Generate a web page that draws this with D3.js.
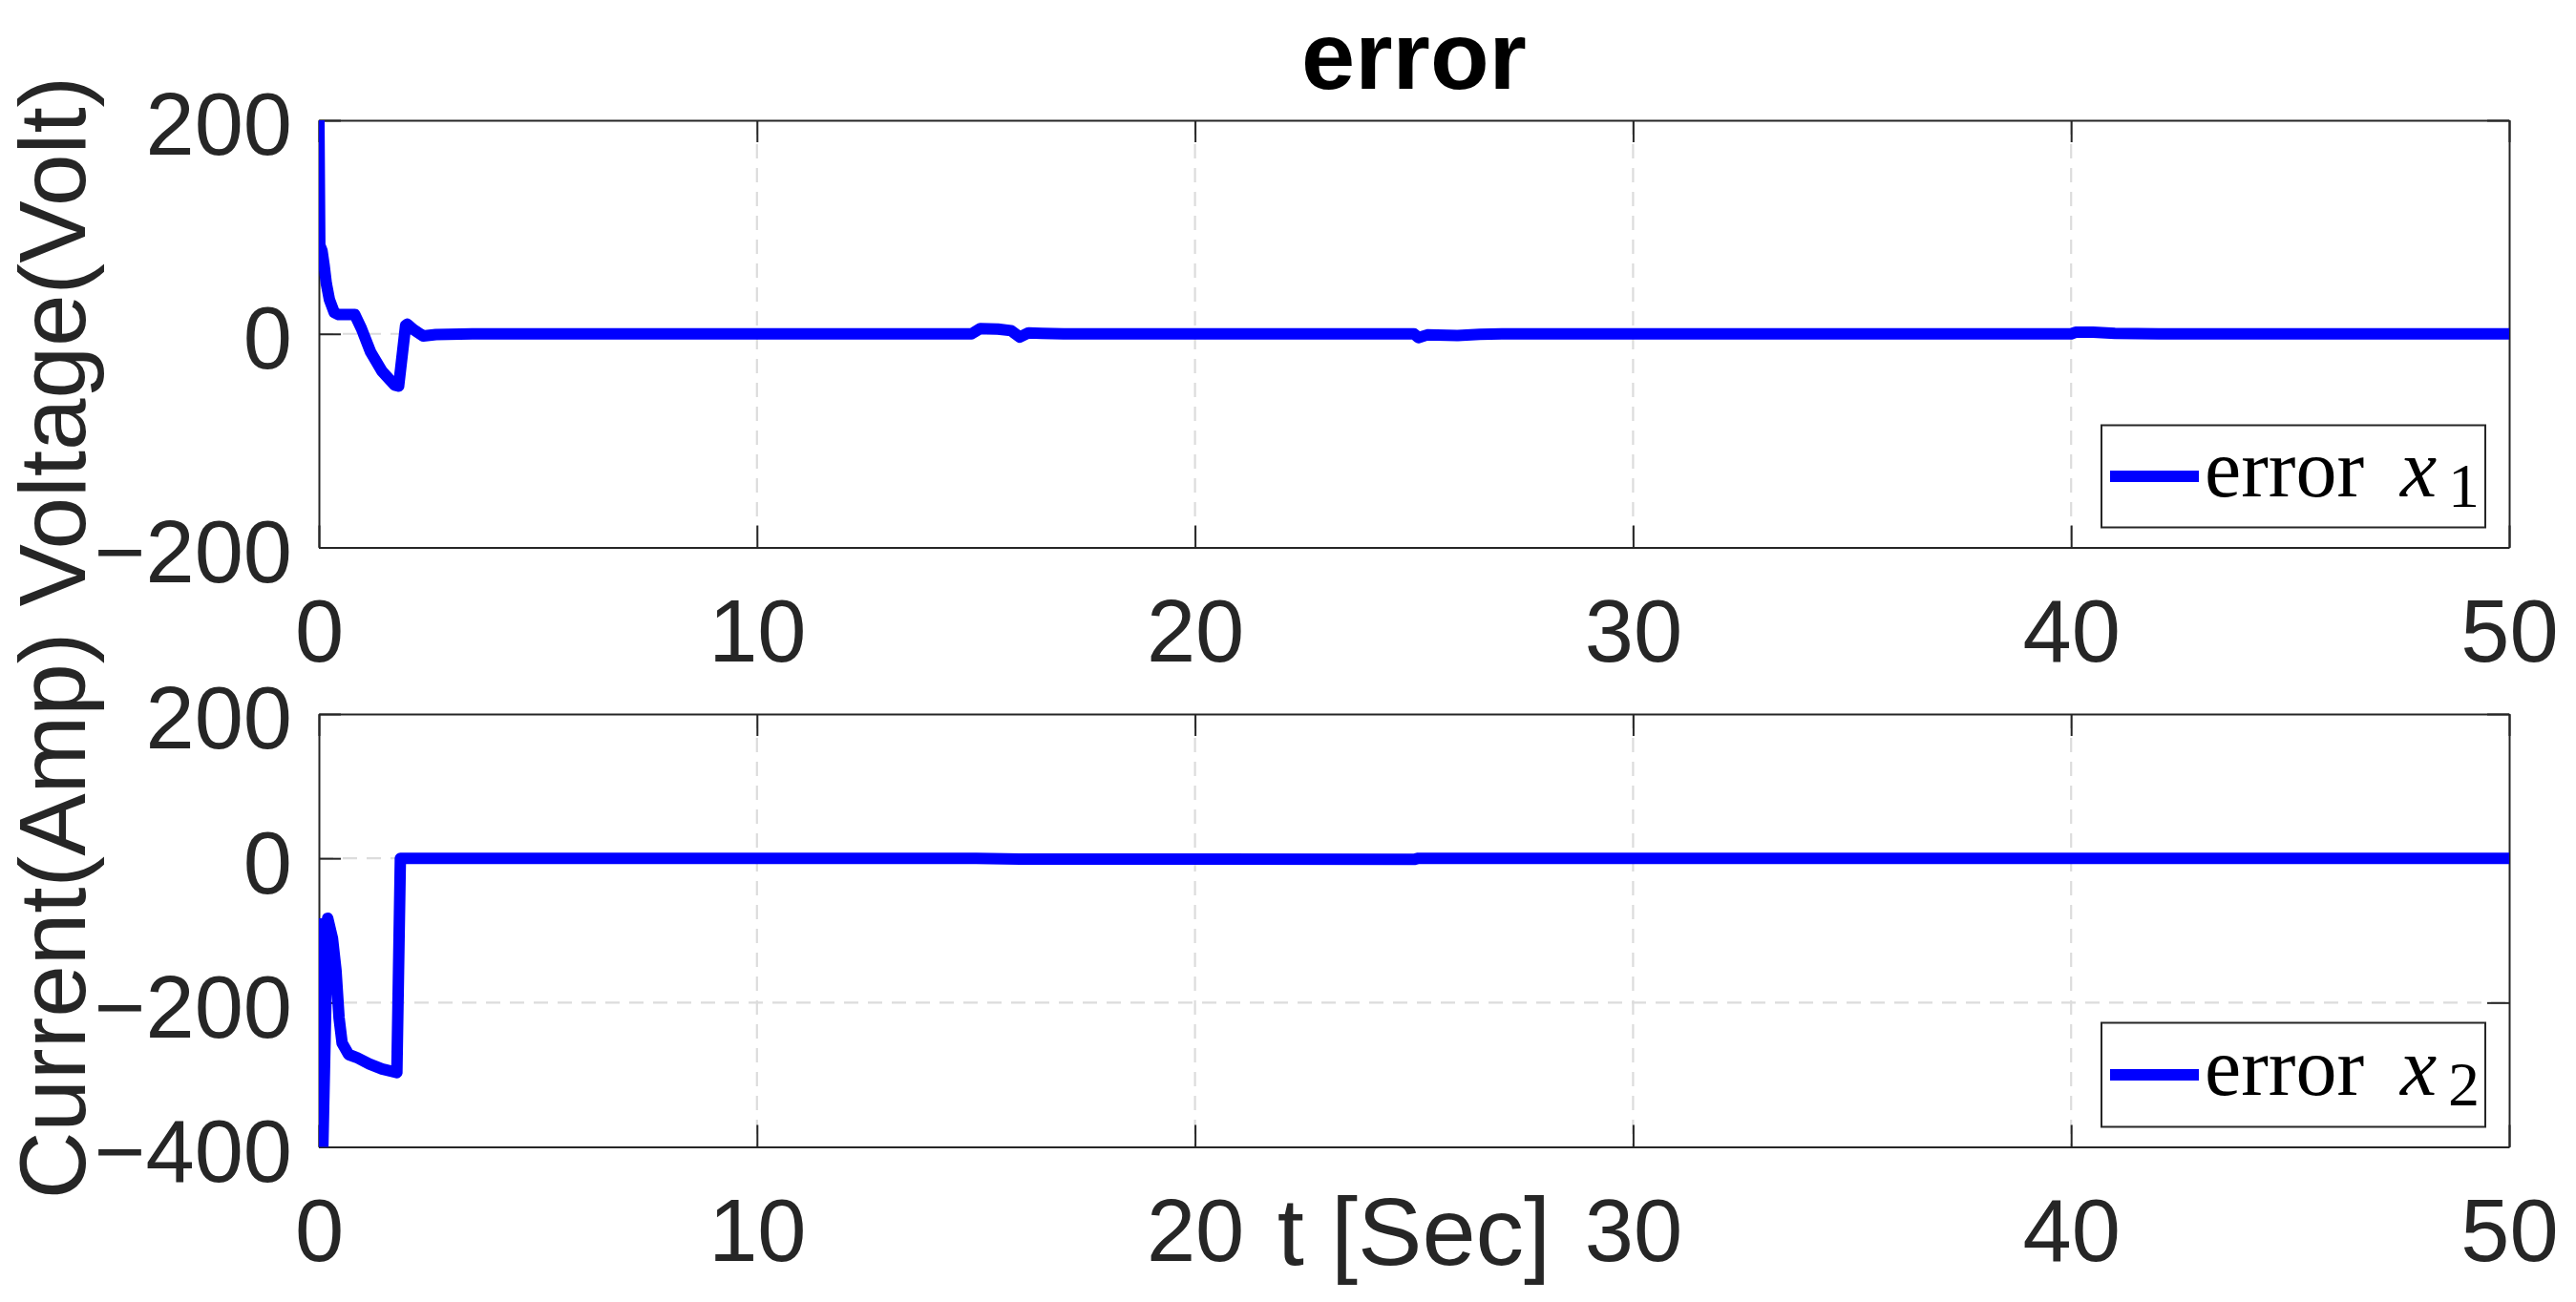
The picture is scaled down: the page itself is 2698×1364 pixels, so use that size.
<!DOCTYPE html>
<html><head><meta charset="utf-8">
<script src="https://cdn.jsdelivr.net/npm/d3@7"></script>
<style>body{margin:0;background:#fff}svg{display:block}</style>
</head><body>
<script>
// ---------- data ----------
const timeX1 = [0, 0.02, 0.07, 0.12, 0.17, 0.24, 0.35, 0.45, 0.82, 0.97, 1.18, 1.44, 1.73, 1.82, 1.98, 2.02, 2.16, 2.38, 2.67, 3.5, 14.9, 15.1, 15.5, 15.8, 16.0, 16.2, 16.5, 17, 25.0, 25.1, 25.3, 26, 26.5, 27, 40.0, 40.1, 40.5, 41, 42, 50];
const errorX1 = [200, 83, 78, 64, 47, 32, 20, 18, 18, 5, -17, -35, -48, -49, 8, 9, 4, -2, -0.6, 0, 0, 5, 4.5, 3, -3, 1, 0.5, 0, 0, -3.5, -1, -1.5, -0.5, 0, 0, 1.5, 1.5, 0.5, 0, 0];
const timeX2 = [0, 0.09, 0.2, 0.31, 0.39, 0.46, 0.53, 0.68, 0.86, 1.15, 1.44, 1.78, 1.86, 5, 15, 16, 25, 25.1, 50];
const errorX2 = [-83, -400, -83, -111, -155, -221, -256, -272, -276, -285, -292, -297, 0, 0, 0, -1, -1.5, 0, 0];
const xTicks = [0, 10, 20, 30, 40, 50];
const yTicksTop = [-200, 0, 200];
const yTicksBottom = [-400, -200, 0, 200];
const titleText = "error";
const xLabelText = "t [Sec]";
const yLabelText = "Current(Amp) Voltage(Volt)";
const legendNames = ["error", "error"];
const legendSubs = ["1", "2"];

// ---------- layout ----------
const W = 2698, H = 1364;
const L = 334, R = 2628;
const axisColor = "#262626";
const gridColor = "#dcdcdc";
const lineColor = "#0000ff";
const sans = "'Liberation Sans', Arial, Helvetica, sans-serif";
const serif = "'Liberation Serif', 'Times New Roman', serif";

const svg = d3.select("body").append("svg").attr("width", W).attr("height", H);
const x = d3.scaleLinear().domain([0, 50]).range([L, R]);

const panels = [
  {top: 126, bottom: 573.5, domain: [-200, 200], ticks: yTicksTop, t: timeX1, v: errorX1},
  {top: 748, bottom: 1201.5, domain: [-400, 200], ticks: yTicksBottom, t: timeX2, v: errorX2}
];

panels.forEach((p, pi) => {
  const y = d3.scaleLinear().domain(p.domain).range([p.bottom, p.top]);
  const g = svg.append("g");
  const clipId = "clip" + pi;
  svg.append("clipPath").attr("id", clipId).append("rect")
    .attr("x", L).attr("y", p.top).attr("width", R - L).attr("height", p.bottom - p.top);

  // grid
  const grid = g.append("g").attr("stroke", gridColor).attr("stroke-width", 2.2)
    .attr("stroke-dasharray", "15,10");
  grid.selectAll("line.gx").data(xTicks.filter(d => d > 0 && d < 50)).join("line")
    .attr("x1", d => x(d)).attr("x2", d => x(d)).attr("y1", p.top).attr("y2", p.bottom);
  grid.selectAll("line.gy").data(p.ticks.filter(d => d > p.domain[0] && d < p.domain[1])).join("line")
    .attr("y1", d => y(d)).attr("y2", d => y(d)).attr("x1", L).attr("x2", R);

  // axes
  const ax = g.append("g").attr("transform", `translate(0,${p.bottom})`)
    .call(d3.axisBottom(x).tickValues(xTicks).tickSizeInner(-23).tickSizeOuter(0).tickPadding(54).tickFormat(d3.format("d")));
  const axT = g.append("g").attr("transform", `translate(0,${p.top})`)
    .call(d3.axisTop(x).tickValues(xTicks).tickSizeInner(-23).tickSizeOuter(0).tickFormat(""));
  const ay = g.append("g").attr("transform", `translate(${L},0)`)
    .call(d3.axisLeft(y).tickValues(p.ticks).tickSizeInner(-23).tickSizeOuter(0).tickPadding(28));
  const ayR = g.append("g").attr("transform", `translate(${R},0)`)
    .call(d3.axisRight(y).tickValues(p.ticks).tickSizeInner(-23).tickSizeOuter(0).tickFormat(""));
  [ax, axT, ay, ayR].forEach(a => {
    a.select(".domain").attr("stroke", axisColor).attr("stroke-width", 2);
    a.selectAll(".tick line").attr("stroke", axisColor).attr("stroke-width", 2);
    a.selectAll(".tick text").attr("fill", axisColor).style("font-family", sans).style("font-size", "92px");
  });
  ay.selectAll(".tick text").attr("dy", "0.39em");

  // data line
  const pts = p.t.map((t, i) => [t, p.v[i]]);
  g.append("path").datum(pts)
    .attr("clip-path", `url(#${clipId})`)
    .attr("fill", "none").attr("stroke", lineColor).attr("stroke-width", 12)
    .attr("stroke-linejoin", "round").attr("stroke-linecap", "butt")
    .attr("d", d3.line().x(d => x(d[0])).y(d => y(d[1])));

  // legend
  const lw = 402, lh = pi === 0 ? 107 : 109;
  const lx = R - 25 - lw, ly = p.bottom - 21 - lh;
  const cy = ly + lh / 2;
  const lg = svg.append("g");
  lg.append("rect").attr("x", lx).attr("y", ly).attr("width", lw).attr("height", lh)
    .attr("fill", "#fff").attr("stroke", axisColor).attr("stroke-width", 2);
  lg.append("line").attr("x1", lx + 9).attr("x2", lx + 102).attr("y1", cy).attr("y2", cy)
    .attr("stroke", lineColor).attr("stroke-width", 12);
  const tx = lg.append("text").attr("x", lx + 108).attr("y", cy + 21)
    .style("font-family", serif).style("font-size", "86px").attr("fill", "#000");
  tx.append("tspan").text(legendNames[pi]);
  tx.append("tspan").attr("x", lx + 313).style("font-style", "italic").text("x");
  tx.append("tspan").attr("x", lx + 363).attr("dy", 11).style("font-size", "66px").text(legendSubs[pi]);
});

// title & labels
svg.append("text").attr("x", (L + R) / 2).attr("y", 93).attr("text-anchor", "middle")
  .style("font-family", sans).style("font-size", "101px").style("font-weight", "bold")
  .attr("fill", "#000").text(titleText);
svg.append("text").attr("x", (L + R) / 2).attr("y", 1325).attr("text-anchor", "middle")
  .style("font-family", sans).style("font-size", "101px").attr("fill", axisColor).text(xLabelText);
svg.append("text").attr("transform", "translate(89,668) rotate(-90)").attr("text-anchor", "middle")
  .style("font-family", sans).style("font-size", "98px").attr("fill", axisColor).text(yLabelText);
</script>
</body></html>
